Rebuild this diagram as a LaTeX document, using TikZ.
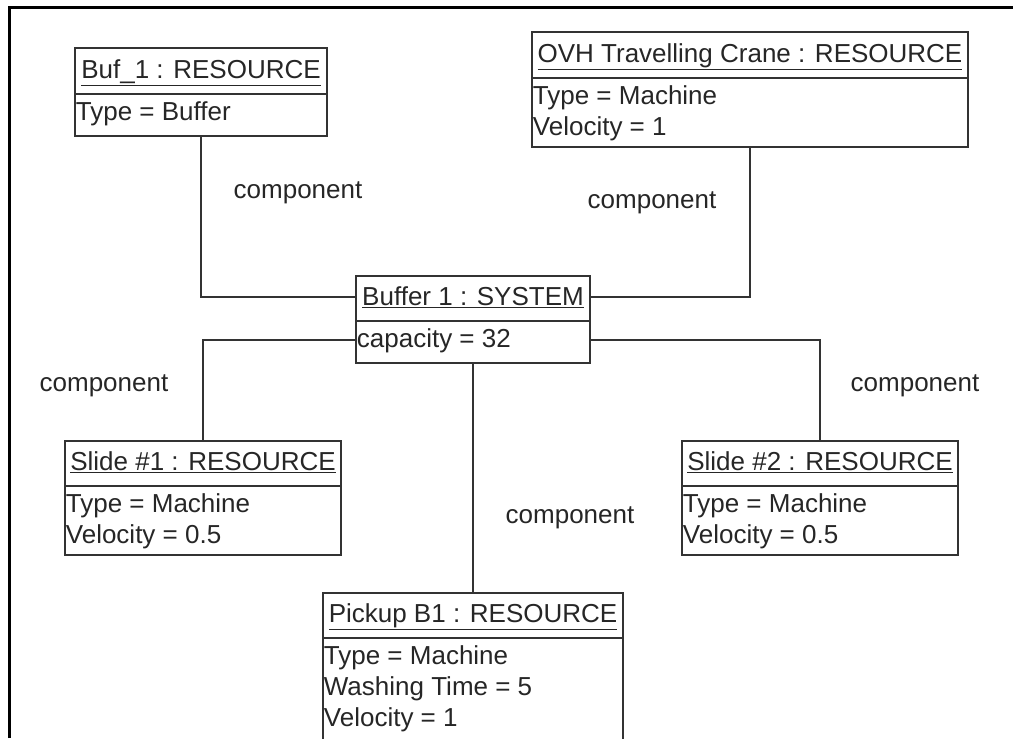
\documentclass[tikz,border=0pt]{standalone}
\usepackage{fontspec}
\setmainfont{Liberation Sans}
\begin{document}
\begin{tikzpicture}[x = 1pt, y = -1pt,
        every node/.style = {font = \fontsize{26}{31}\selectfont, text = black!85},
        obj/.style = {draw = black!80, line width = 1.6pt, inner sep = 0pt},
        ttl/.style = {anchor = base, inner sep = 0pt},
        attr/.style = {anchor = north west, align = left, inner xsep = 1.5pt, inner ysep = 7pt},
        link/.style = {draw = black!80, line width = 1.6pt},
        lbl/.style = {anchor = base, inner sep = 0pt}]
    \useasboundingbox (0,0) rectangle (1016,738);
    % frame
    \draw[line width = 3pt] (9,738) -- (9,8) -- (1013,8);
    % objects
    \node[obj, minimum width = 252pt, minimum height = 88pt] (buf) at (201,92) {};
    \node[ttl] (buf-t) at ([yshift = -31pt]buf.north) {\underline{Buf\_1 : RESOURCE}};
    \draw[link] ([yshift = -47pt]buf.north west) -- ([yshift = -47pt]buf.north east);
    \node[attr] (buf-a) at ([yshift = -47pt]buf.north west) {Type = Buffer};

    \node[obj, minimum width = 436pt, minimum height = 115pt] (ovh) at (750,89.5) {};
    \node[ttl] (ovh-t) at ([yshift = -31pt]ovh.north) {\underline{OVH Travelling Crane : RESOURCE}};
    \draw[link] ([yshift = -47pt]ovh.north west) -- ([yshift = -47pt]ovh.north east);
    \node[attr] (ovh-a) at ([yshift = -47pt]ovh.north west) {Type = Machine\\Velocity = 1};

    \node[obj, minimum width = 234pt, minimum height = 87pt] (sys) at (473,319.5) {};
    \node[ttl] (sys-t) at ([yshift = -30pt]sys.north) {\underline{Buffer 1 : SYSTEM}};
    \draw[link] ([yshift = -46pt]sys.north west) -- ([yshift = -46pt]sys.north east);
    \node[attr] (sys-a) at ([yshift = -46pt]sys.north west) {capacity = 32};

    \node[obj, minimum width = 276pt, minimum height = 114pt] (slide1) at (203,498) {};
    \node[ttl] (slide1-t) at ([yshift = -30pt]slide1.north) {\underline{Slide \#1 : RESOURCE}};
    \draw[link] ([yshift = -46pt]slide1.north west) -- ([yshift = -46pt]slide1.north east);
    \node[attr] (slide1-a) at ([yshift = -46pt]slide1.north west) {Type = Machine\\Velocity = 0.5};

    \node[obj, minimum width = 276pt, minimum height = 114pt] (slide2) at (820,498) {};
    \node[ttl] (slide2-t) at ([yshift = -30pt]slide2.north) {\underline{Slide \#2 : RESOURCE}};
    \draw[link] ([yshift = -46pt]slide2.north west) -- ([yshift = -46pt]slide2.north east);
    \node[attr] (slide2-a) at ([yshift = -46pt]slide2.north west) {Type = Machine\\Velocity = 0.5};

    \node[obj, minimum width = 300pt, minimum height = 157pt] (pick) at (473,671.5) {};
    \node[ttl] (pick-t) at ([yshift = -30pt]pick.north) {\underline{Pickup B1 : RESOURCE}};
    \draw[link] ([yshift = -46pt]pick.north west) -- ([yshift = -46pt]pick.north east);
    \node[attr] (pick-a) at ([yshift = -46pt]pick.north west) {Type = Machine\\Washing Time = 5\\Velocity = 1};
    % links
    \draw[link] (buf.south) |- ([yshift = -22pt]sys.north west);
    \draw[link] (ovh.south) |- ([yshift = -22pt]sys.north east);
    \draw[link] ([yshift = -65pt]sys.north west) -| (slide1.north);
    \draw[link] ([yshift = -65pt]sys.north east) -| (slide2.north);
    \draw[link] (sys.south) -- (pick.north);
    \node[lbl] (lbl-buf) at (298,198) {component};
    \node[lbl] (lbl-ovh) at (652,208) {component};
    \node[lbl] (lbl-s1) at (104,391) {component};
    \node[lbl] (lbl-s2) at (915,391) {component};
    \node[lbl] (lbl-pick) at (570,523) {component};
\end{tikzpicture}
\end{document}
